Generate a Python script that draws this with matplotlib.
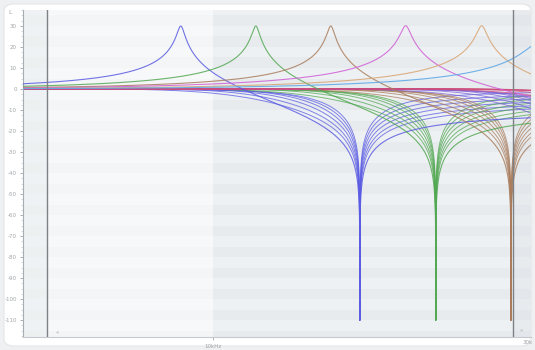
import numpy as np
import matplotlib
matplotlib.use("Agg")
import matplotlib.pyplot as plt
from matplotlib.patches import FancyBboxPatch
from matplotlib.ticker import MultipleLocator, FixedLocator, NullFormatter

# resonant sections (one curve each)
peak_freqs = [8890, 11720, 15450, 20360, 26940]
peak_zeros = [17190, 22740, 30000, None, None]
peak_q = [43, 43, 43, 32, 32]
peak_colors = ["#5b5be3", "#52a852", "#a97c5c", "#cf5fd6", "#d8a472"]

# notch families (several curves per notch)
fan_zeros = [17190, 22740, 30000, 39500, 52100]
fan_ratios = [0.66, 0.71, 0.77, 0.83, 0.89, 0.95]
fan_q = [1.1, 1.25, 1.4, 1.55, 1.7, 1.9]
fan_colors = ["#5b5be3", "#52a852", "#a97c5c", "#7d62d8", "#cc4d7c"]

# extra rising curve at the right edge
extra_freq = 33200
extra_q = 12
extra_color = "#5fa9e8"

cursor_lo = 5420
cursor_hi = 30200
yticks = list(range(30, -111, -10))


def section(f, p, q, z=None):
    den = 1 - (f / p) ** 2 + 1j * f / (q * p)
    num = 1.0 if z is None else 1 - (f / z) ** 2
    return 20 * np.log10(np.maximum(np.abs(num / den), 10 ** (-110 / 20)))


def main() -> None:
    fig = plt.figure(figsize=(5.35, 3.5), dpi=100)
    fig.patch.set_facecolor("#eef0f1")
    card = FancyBboxPatch((4 / 535, 4 / 350), 527 / 535, 342 / 350,
                          boxstyle="round,pad=0,rounding_size=0.02",
                          transform=fig.transFigure, facecolor="white",
                          edgecolor="#e4e6e8", lw=0.8, zorder=-10)
    fig.patches.append(card)

    ax = fig.add_axes([23 / 535, 13 / 350, 508 / 535, 327 / 350])
    ax.set_facecolor("#eef1f3")
    ax.set_xscale("log")
    ax.set_xlim(4970, 32300)
    ax.set_ylim(-118, 37.6)

    # background stripes
    for k, lo in enumerate(range(-120, 40, 5)):
        if k % 2 == 0:
            ax.axhspan(lo, lo + 5, color="#e7ebee", lw=0, zorder=0)
    ax.axvspan(4970, 10000, color="white", alpha=0.5, lw=0, zorder=0.5)
    ax.axvspan(4970, cursor_lo, color="#dde2e6", alpha=0.25, lw=0, zorder=0.6)
    ax.axvspan(cursor_hi, 32300, color="#dde2e6", alpha=0.35, lw=0, zorder=0.6)

    f = np.geomspace(4970, 32300, 6000)
    f = np.sort(np.concatenate([f, fan_zeros[:3]]))

    for z, c in zip(fan_zeros, fan_colors):
        for r, q in zip(fan_ratios, fan_q):
            ax.plot(f, section(f, r * z, q, z), color=c, lw=0.7, alpha=0.75, zorder=2)

    for p, z, q, c in zip(peak_freqs, peak_zeros, peak_q, peak_colors):
        ax.plot(f, section(f, p, q, z), color=c, lw=0.8, alpha=0.85, zorder=3)

    ax.plot(f, section(f, extra_freq, extra_q), color=extra_color, lw=0.8, alpha=0.9, zorder=3)

    ax.axvline(cursor_lo, color="#7d8186", lw=1.0, zorder=4)
    ax.axvline(cursor_hi, color="#7d8186", lw=1.0, zorder=4)

    for s in ["top", "right"]:
        ax.spines[s].set_visible(False)
    ax.spines["left"].set_color("#a8adb2")
    ax.spines["bottom"].set_color("#c5c9cd")
    ax.spines["left"].set_linewidth(0.8)
    ax.spines["bottom"].set_linewidth(0.8)

    ax.yaxis.set_major_locator(FixedLocator(yticks))
    ax.yaxis.set_minor_locator(MultipleLocator(2.5))
    ax.set_yticklabels([str(v) for v in yticks])
    ax.tick_params(axis="y", which="major", labelsize=4, colors="#a0a4a8",
                   length=2.5, width=0.6, pad=2)
    ax.tick_params(axis="y", which="minor", length=1.2, width=0.4, colors="#b5b9bd")

    ax.xaxis.set_major_locator(FixedLocator([10000]))
    ax.xaxis.set_minor_locator(FixedLocator([]))
    ax.xaxis.set_minor_formatter(NullFormatter())
    ax.set_xticklabels(["10kHz"])
    ax.tick_params(axis="x", labelsize=4, colors="#a0a4a8", length=2, width=0.6, pad=3)

    fig.text(10 / 535, 1 - 12 / 350, "L", fontsize=4.5, color="#a0a4a8", ha="center", va="center")
    fig.text(533 / 535, 1 - 343 / 350, "30k", fontsize=4, color="#a0a4a8", ha="right", va="center")
    ax.text(5600, -116, "«", fontsize=4, color="#a0a4a8", ha="left", va="center")
    ax.text(31000, -115, "»", fontsize=4, color="#a0a4a8", ha="left", va="center")

    fig.savefig("out.png", dpi=100, facecolor=fig.get_facecolor())


if __name__ == "__main__":
    main()
